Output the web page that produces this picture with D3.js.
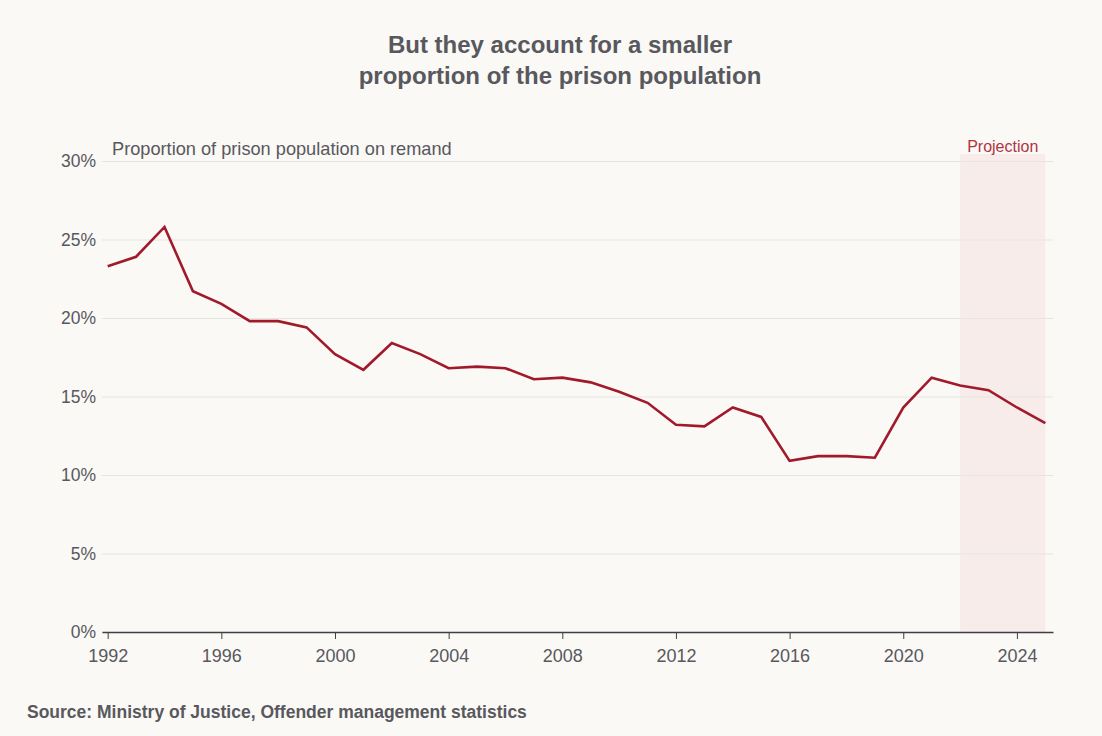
<!DOCTYPE html>
<html><head><meta charset="utf-8">
<script src="https://cdn.jsdelivr.net/npm/d3@7"></script>
<style>
html,body{margin:0;padding:0;background:#faf9f6;}
svg{display:block;font-family:"Liberation Sans",Arial,sans-serif;}
</style></head>
<body>
<svg id="chart" width="1102" height="736"></svg>
<script>
const years = [1992,1993,1994,1995,1996,1997,1998,1999,2000,2001,2002,2003,2004,2005,2006,2007,2008,2009,2010,2011,2012,2013,2014,2015,2016,2017,2018,2019,2020,2021,2022,2023,2024,2025];
const remandShare = [23.3,23.9,25.8,21.7,20.9,19.8,19.8,19.4,17.7,16.7,18.4,17.7,16.8,16.9,16.8,16.1,16.2,15.9,15.3,14.6,13.2,13.1,14.3,13.7,10.9,11.2,11.2,11.1,14.3,16.2,15.7,15.4,14.3,13.3];
const yTicks = [0,5,10,15,20,25,30];
const xTicks = [1992,1996,2000,2004,2008,2012,2016,2020,2024];
const projection = [2022,2025];

const svg = d3.select("#chart");
const textCol = "#58585d";
const lineCol = "#a11a2b";

const x = d3.scaleLinear().domain([1991.8,2025.27]).range([102,1053]);
const y = d3.scaleLinear().domain([0,30]).range([632,161]);

svg.append("rect").attr("width",1102).attr("height",736).attr("fill","#faf9f6");

// title
const title = svg.append("text").attr("x",560).attr("text-anchor","middle")
  .attr("fill",textCol).attr("font-weight","bold").attr("font-size",24);
title.append("tspan").attr("x",560).attr("y",53).text("But they account for a smaller");
title.append("tspan").attr("x",560).attr("y",84).text("proportion of the prison population");

// projection band
svg.append("rect").attr("x",x(projection[0])).attr("y",154)
  .attr("width",x(projection[1])-x(projection[0])).attr("height",632-154)
  .attr("fill","#f7ecea");
svg.append("text").attr("x",(x(projection[0])+x(projection[1]))/2).attr("y",152)
  .attr("text-anchor","middle").attr("fill","#b13441").attr("font-size",16).text("Projection");

// gridlines + y labels
const yAxis = d3.axisLeft(y).tickValues(yTicks).tickSize(-(1053-102)).tickFormat(d=>d+"%").tickPadding(6);
const gy = svg.append("g").attr("transform","translate(102,0)").call(yAxis);
gy.select(".domain").remove();
gy.selectAll(".tick line").attr("stroke","#e8e5e1").attr("stroke-width",1.2);
gy.selectAll(".tick text").attr("fill",textCol).attr("font-size",17.5).attr("font-family","Liberation Sans, Arial, sans-serif");

// subtitle
svg.append("text").attr("x",112).attr("y",155).attr("fill",textCol).attr("font-size",18.2)
  .text("Proportion of prison population on remand");

// x axis
const xAxis = d3.axisBottom(x).tickValues(xTicks).tickFormat(d3.format("d")).tickSize(7).tickPadding(10).tickSizeOuter(0);
const gx = svg.append("g").attr("transform","translate(0,632)").call(xAxis);
gx.select(".domain").attr("stroke","#3f3f44").attr("stroke-width",1.5);
gx.selectAll(".tick line").attr("stroke","#3f3f44").attr("stroke-width",1);
gx.selectAll(".tick text").attr("fill",textCol).attr("font-size",18).attr("font-family","Liberation Sans, Arial, sans-serif");

// line
const data = years.map((yr,i)=>({yr, v: remandShare[i]}));
svg.append("path").datum(data)
  .attr("fill","none").attr("stroke",lineCol).attr("stroke-width",2.6).attr("stroke-linejoin","miter")
  .attr("d", d3.line().x(d=>x(d.yr)).y(d=>y(d.v)));

// source
svg.append("text").attr("x",27).attr("y",718).attr("fill",textCol).attr("font-weight","bold").attr("font-size",17.5)
  .text("Source: Ministry of Justice, Offender management statistics");
</script>
</body></html>
